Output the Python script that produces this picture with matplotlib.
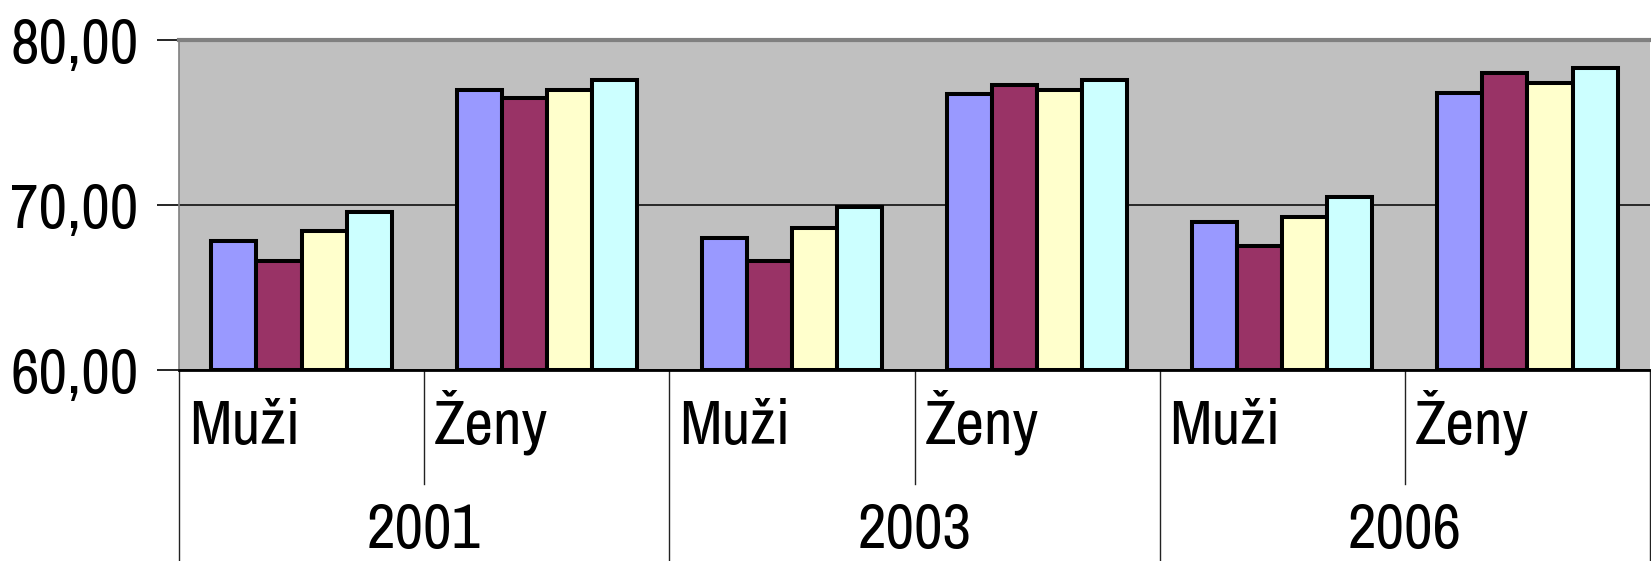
import matplotlib
matplotlib.use("Agg")
import matplotlib.pyplot as plt
import numpy as np

years = ["2001", "2003", "2006"]
sexes = ["Muži", "Ženy"]
categories = [(y, s) for y in years for s in sexes]
series1 = [67.8, 77.0, 68.0, 76.7, 69.0, 76.8]
series2 = [66.6, 76.5, 66.6, 77.3, 67.5, 78.0]
series3 = [68.4, 77.0, 68.6, 77.0, 69.3, 77.4]
series4 = [69.6, 77.6, 69.9, 77.6, 70.5, 78.3]
colors = ["#9999FF", "#993366", "#FFFFCC", "#CCFFFF"]
yticks = [60, 70, 80]
ytick_labels = ["60,00", "70,00", "80,00"]

fam = ["Archivo Narrow", "Liberation Sans", "DejaVu Sans"]
plt.rcParams["font.family"] = fam
FS = 45

W, H = 1651, 561
fig = plt.figure(figsize=(W / 100, H / 100), dpi=100)
ax = fig.add_axes([179 / W, 1 - 370 / H, (1650 - 179) / W, 330 / H])
ax.set_facecolor("#C0C0C0")

x = np.arange(len(categories))
bw = 0.184
allser = [series1, series2, series3, series4]
for i, (s, c) in enumerate(zip(allser, colors)):
    ax.bar(x + (i - 1.5) * bw, np.array(s) - 60, bottom=60, width=bw,
           color=c, edgecolor="black", linewidth=2.9, zorder=3)

ax.set_xlim(-0.5, len(categories) - 0.5)
ax.set_ylim(60, 80)
ax.set_yticks(yticks)
ax.set_yticklabels(ytick_labels, fontsize=FS)
ax.tick_params(axis="y", length=16, width=1.2, pad=13, color="black")
ax.set_xticks([])
ax.yaxis.grid(True, color="black", linewidth=1.1, zorder=1)
ax.set_axisbelow(True)

ax.spines["right"].set_visible(False)
ax.spines["top"].set_color("#808080")
ax.spines["top"].set_linewidth(3)
ax.spines["left"].set_color("#808080")
ax.spines["left"].set_linewidth(1.2)
ax.spines["bottom"].set_color("black")
ax.spines["bottom"].set_linewidth(2)

tr = ax.get_xaxis_transform()
for k in range(len(categories) + 1):
    xpos = k - 0.5
    y0 = -0.579 if k % 2 == 0 else -0.345
    ax.plot([xpos, xpos], [0, y0], transform=tr, color="#222222",
            linewidth=1.0, clip_on=False)

for k, (yr, s) in enumerate(categories):
    ax.text(k - 0.5 + 0.04, -0.224, s, transform=tr, fontsize=FS,
            ha="left", va="baseline")
for j, yr in enumerate(years):
    ax.text(2 * j + 0.5, -0.54, yr, transform=tr, fontsize=FS,
            ha="center", va="baseline")

fig.savefig("out.png", dpi=100)
